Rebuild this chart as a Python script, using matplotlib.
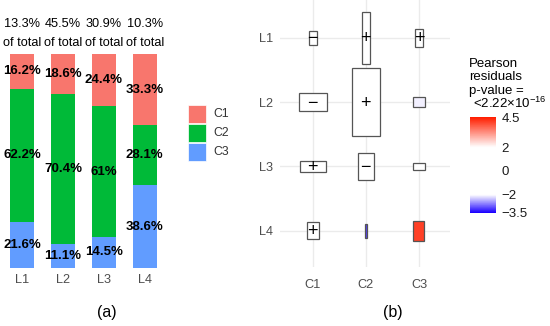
import matplotlib
matplotlib.use("Agg")
import matplotlib.pyplot as plt
from matplotlib.patches import Rectangle
from matplotlib.colors import LinearSegmentedColormap, Normalize
import numpy as np

plt.rcParams['font.family'] = ['Liberation Sans', 'DejaVu Sans']
plt.rcParams['mathtext.fontset'] = 'custom'
plt.rcParams['mathtext.rm'] = 'Liberation Sans'
plt.rcParams['mathtext.it'] = 'Liberation Sans'

# ---------------- data ----------------
levels = ["L1", "L2", "L3", "L4"]
classes = ["C1", "C2", "C3"]
pct_total = [13.3, 45.5, 30.9, 10.3]
pct_C1 = [16.2, 18.6, 24.4, 33.3]
pct_C2 = [62.2, 70.4, 61.0, 28.1]
pct_C3 = [21.6, 11.1, 14.5, 38.6]

# association plot: box width / height (in grid units) per level x class
box_width = [[0.157, 0.138, 0.138],
             [0.534, 0.523, 0.240],
             [0.496, 0.308, 0.220],
             [0.220, 0.043, 0.208]]
box_height = [[0.218, 0.810, 0.275],
              [0.275, 1.047, 0.156],
              [0.171, 0.415, 0.104],
              [0.264, 0.218, 0.311]]
residuals = [[-0.9, 0.1, 0.6],
             [-1.2, 1.5, -2.08],
             [1.0, -1.3, -0.3],
             [1.1, -3.1, 4.1]]
signs = [["−", "+", "+"],
         ["−", "+", ""],
         ["+", "−", ""],
         ["+", "", ""]]
cbar_ticks = [4.5, 2, 0, -2, -3.5]

# ---------------- figure ----------------
W, H = 550, 326
fig = plt.figure(figsize=(W / 100, H / 100), dpi=100)


def px_rect(l, t, r, b):
    return [l / W, 1 - b / H, (r - l) / W, (b - t) / H]


seg_colors = ["#F8766D", "#00BA38", "#619CFF"]
txt_gray = "#4D4D4D"

# ---- panel (a) ----
ax1 = fig.add_axes(px_rect(0, 54, 170, 268))
x = np.arange(1, len(levels) + 1)
bw = 0.587
c3 = np.array(pct_C3)
c2 = np.array(pct_C2)
c1 = np.array(pct_C1)
ax1.bar(x, c3, width=bw, color=seg_colors[2])
ax1.bar(x, c2, width=bw, bottom=c3, color=seg_colors[1])
ax1.bar(x, c1, width=bw, bottom=c3 + c2, color=seg_colors[0])
for i in range(len(levels)):
    for val, base in ((c3[i], 0), (c2[i], c3[i]), (c1[i], c3[i] + c2[i])):
        ax1.text(x[i], base + val / 2, f"{val:g}%", ha="center", va="center",
                 fontsize=9.5, fontweight="bold", color="black")
    ax1.annotate(f"{pct_total[i]:g}%", xy=(x[i], 100), xytext=(0, 21.4),
                 textcoords="offset points", ha="center", va="center",
                 fontsize=9.2, annotation_clip=False)
    ax1.annotate("of total", xy=(x[i], 100), xytext=(0, 8.2),
                 textcoords="offset points", ha="center", va="center",
                 fontsize=9.2, annotation_clip=False)
ax1.set_xlim(0.462, 4.62)
ax1.set_ylim(0, 100)
ax1.set_xticks(x)
ax1.set_xticklabels(levels, fontsize=9.2, color=txt_gray)
ax1.tick_params(axis="x", length=0, pad=4.5)
ax1.set_yticks([])
for s in ax1.spines.values():
    s.set_visible(False)

# legend for (a)
for k, (lab, col) in enumerate(zip(["C1", "C2", "C3"], seg_colors)):
    top = 105 + k * 19.2
    fig.add_artist(Rectangle(((188) / W, 1 - (top + 18) / H), 18 / W, 18 / H,
                             transform=fig.transFigure, facecolor=col,
                             edgecolor="white", linewidth=0.5))
    fig.text(213 / W, 1 - (top + 9) / H, lab, fontsize=8.8, color="#333333",
             va="center", ha="left")

fig.text(107 / W, 1 - 312.7 / H, "(a)", fontsize=11.5, ha="center", va="center")

# ---- panel (b) ----
ax2 = fig.add_axes(px_rect(280, 0, 450, 267))
ax2.set_xlim(0.383, 3.585)
ax2.set_ylim(4.565, 0.414)
cmap = LinearSegmentedColormap.from_list(
    "res", [(0.0, "#1A00FF"), (0.1875, "#FFFFFF"), (0.6875, "#FFFFFF"),
            (1.0, "#FF1E00")])
norm = Normalize(vmin=-3.5, vmax=4.5)
for yv in range(1, 5):
    ax2.axhline(yv, color="#EBEBEB", lw=1, zorder=0)
for xv in range(1, 4):
    ax2.axvline(xv, color="#EBEBEB", lw=1, zorder=0)
for i in range(len(levels)):
    for j in range(len(classes)):
        w = box_width[i][j]
        h = box_height[i][j]
        col = cmap(norm(residuals[i][j]))
        ax2.add_patch(Rectangle((j + 1 - w / 2, i + 1 - h / 2), w, h,
                                facecolor=col, edgecolor="#555555",
                                linewidth=0.9, zorder=2))
        if signs[i][j]:
            ax2.text(j + 1, i + 1.02, signs[i][j], ha="center", va="center",
                     fontsize=13, color="black", zorder=3)
ax2.set_xticks(range(1, 4))
ax2.set_xticklabels(classes, fontsize=9.2, color=txt_gray)
ax2.set_yticks(range(1, 5))
ax2.set_yticklabels(levels, fontsize=9.2, color=txt_gray)
ax2.tick_params(axis="both", length=0)
ax2.tick_params(axis="x", pad=9)
ax2.tick_params(axis="y", pad=5)
for s in ax2.spines.values():
    s.set_visible(False)

fig.text(393 / W, 1 - 313 / H, "(b)", fontsize=11.5, ha="center", va="center")

# legend for (b)
fig.text(469 / W, 1 - 66.7 / H, "Pearson", fontsize=9.5, va="baseline")
fig.text(469 / W, 1 - 80.5 / H, "residuals", fontsize=9.5, va="baseline")
fig.text(469 / W, 1 - 94.3 / H, "p-value =", fontsize=9.5, va="baseline")
fig.text(473 / W, 1 - 108.3 / H, r"<2.22×10$^{-16}$", fontsize=9.5,
         va="baseline")

cax = fig.add_axes(px_rect(470, 117.3, 496, 212.7))
grad = np.linspace(4.5, -3.5, 300).reshape(-1, 1)
cax.imshow(grad, cmap=cmap, norm=norm, aspect="auto",
           extent=[0, 1, -3.5, 4.5], origin="upper")
cax.set_ylim(-3.5, 4.5)
cax.set_xticks([])
cax.yaxis.tick_right()
cax.set_yticks(cbar_ticks)
cax.set_yticklabels([f"{t:g}".replace("-", "−") for t in cbar_ticks],
                    fontsize=9.5, color="#1A1A1A")
cax.tick_params(axis="y", length=0, pad=4)
for s in cax.spines.values():
    s.set_visible(False)

fig.savefig("out.png", dpi=100)
